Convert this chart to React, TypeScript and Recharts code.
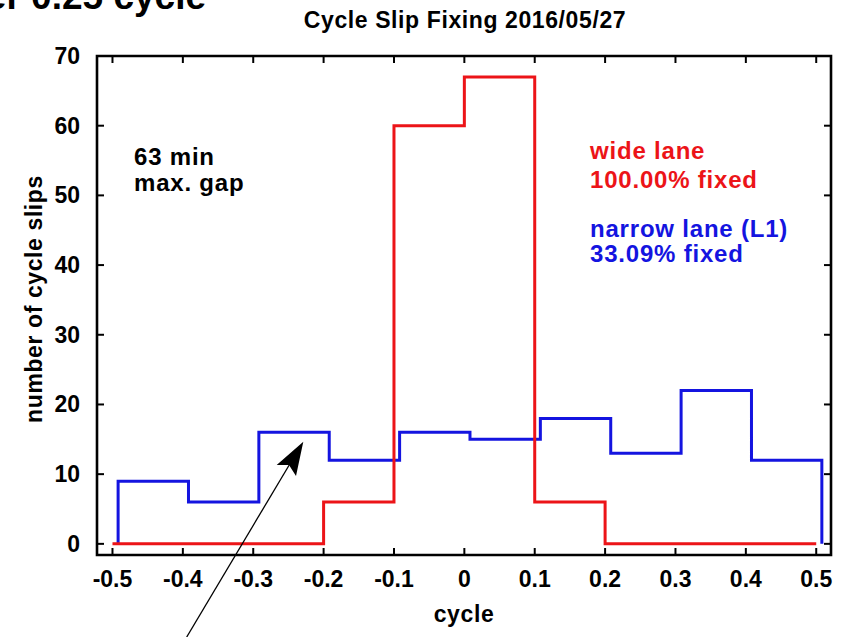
import React from 'react';
import { ComposedChart, Line, XAxis, YAxis, ReferenceArea } from 'recharts';

// bin edges and counts (last count repeated so the step closes at the final edge)
const wideEdges = [-0.5, -0.4, -0.3, -0.2, -0.1, 0, 0.1, 0.2, 0.3, 0.4, 0.5];
const wideCounts = [0, 0, 0, 6, 60, 67, 6, 0, 0, 0, 0];

const narrowEdges = [-0.492, -0.492, -0.392, -0.292, -0.192, -0.092, 0.008, 0.108, 0.208, 0.308, 0.408, 0.508, 0.508];
const narrowCounts = [0, 9, 6, 16, 12, 16, 15, 18, 13, 22, 12, 12, 0];

const xTicks = [-0.5, -0.4, -0.3, -0.2, -0.1, 0, 0.1, 0.2, 0.3, 0.4, 0.5];
const yTicks = [0, 10, 20, 30, 40, 50, 60, 70];

const X_DOMAIN: [number, number] = [-0.522, 0.521];
const Y_DOMAIN: [number, number] = [-1.6, 70];

const W = 844;
const H = 637;
const MARGIN = { top: 56, right: 13, bottom: 0, left: 0 };
const Y_AXIS_W = 97;
const X_AXIS_H = 82;
const PLOT_LEFT = MARGIN.left + Y_AXIS_W;
const PLOT_RIGHT = W - MARGIN.right;
const PLOT_TOP = MARGIN.top;
const PLOT_BOTTOM = H - MARGIN.bottom - X_AXIS_H;
const TICK_LEN = 7;

const FONT = '"Liberation Sans", Arial, Helvetica, sans-serif';
const RED = '#ec1418';
const BLUE = '#1414e0';

const wideData = wideEdges.map((x, i) => ({ x, y: wideCounts[i] }));
const narrowData = narrowEdges.map((x, i) => ({ x, y: narrowCounts[i] }));

const fmtX = (v: number) => (v === 0 ? '0' : v.toFixed(1));

const XTick = (props: any) => {
  const { x, payload } = props;
  return (
    <g>
      <line x1={x} x2={x} y1={PLOT_BOTTOM} y2={PLOT_BOTTOM - TICK_LEN} stroke="#000" strokeWidth={2} />
      <line x1={x} x2={x} y1={PLOT_TOP} y2={PLOT_TOP + TICK_LEN} stroke="#000" strokeWidth={2} />
      <text x={x} y={PLOT_BOTTOM + 32} textAnchor="middle" fontFamily={FONT} fontWeight="bold" fontSize={23} fill="#000">
        {fmtX(payload.value)}
      </text>
    </g>
  );
};

const YTick = (props: any) => {
  const { y, payload } = props;
  return (
    <g>
      <line x1={PLOT_LEFT} x2={PLOT_LEFT + TICK_LEN} y1={y} y2={y} stroke="#000" strokeWidth={2} />
      <line x1={PLOT_RIGHT} x2={PLOT_RIGHT - TICK_LEN} y1={y} y2={y} stroke="#000" strokeWidth={2} />
      <text x={80} y={y + 8} textAnchor="end" fontFamily={FONT} fontWeight="bold" fontSize={23} fill="#000">
        {payload.value}
      </text>
    </g>
  );
};

const txt = { fontFamily: FONT, fontWeight: 'bold' as const, fontSize: 23, letterSpacing: 0.6 };
const note = { fontFamily: FONT, fontWeight: 'bold' as const, fontSize: 24, letterSpacing: 0.8 };

export default function App() {
  return (
    <div style={{ position: 'absolute', left: 0, top: 0, width: W, height: H, background: '#fff', overflow: 'hidden' }}>
      <ComposedChart width={W} height={H} margin={MARGIN}>
        <XAxis
          type="number"
          dataKey="x"
          domain={X_DOMAIN}
          ticks={xTicks}
          allowDataOverflow
          axisLine={false}
          tickLine={false}
          height={X_AXIS_H}
          tick={<XTick />}
          interval={0}
        />
        <YAxis
          type="number"
          domain={Y_DOMAIN}
          ticks={yTicks}
          allowDataOverflow
          axisLine={false}
          tickLine={false}
          width={Y_AXIS_W}
          tick={<YTick />}
          interval={0}
        />
        <ReferenceArea
          x1={X_DOMAIN[0]}
          x2={X_DOMAIN[1]}
          y1={Y_DOMAIN[0]}
          y2={Y_DOMAIN[1]}
          fill="none"
          stroke="#000"
          strokeWidth={2.6}
          fillOpacity={0}
          ifOverflow="visible"
        />
        <Line
          data={narrowData}
          dataKey="y"
          type="stepAfter"
          stroke={BLUE}
          strokeWidth={3}
          dot={false}
          activeDot={false}
          isAnimationActive={false}
          strokeLinejoin="miter"
        />
        <Line
          data={wideData}
          dataKey="y"
          type="stepAfter"
          stroke={RED}
          strokeWidth={3}
          dot={false}
          activeDot={false}
          isAnimationActive={false}
          strokeLinejoin="miter"
        />
      </ComposedChart>

      <svg width={W} height={H} style={{ position: 'absolute', left: 0, top: 0, pointerEvents: 'none' }}>
        <text x={206} y={9} textAnchor="end" fontFamily={FONT} fontWeight="bold" fontSize={37} fill="#000">
          under 0.25 cycle
        </text>
        <text x={465} y={28} textAnchor="middle" {...txt} fill="#000">
          Cycle Slip Fixing 2016/05/27
        </text>
        <text x={464} y={622} textAnchor="middle" {...txt} fill="#000">
          cycle
        </text>
        <text
          x={42}
          y={299}
          textAnchor="middle"
          transform="rotate(-90 42 299)"
          {...txt}
          fill="#000"
        >
          number of cycle slips
        </text>

        <text x={134} y={165} {...note} fill="#000">63 min</text>
        <text x={134} y={191} {...note} fill="#000">max. gap</text>

        <text x={590} y={159} {...note} fill={RED}>wide lane</text>
        <text x={590} y={188} {...note} fill={RED}>100.00% fixed</text>
        <text x={590} y={237} {...note} fill={BLUE}>narrow lane (L1)</text>
        <text x={590} y={262} {...note} fill={BLUE}>33.09% fixed</text>

        {/* pointer to the -0.29..-0.19 narrow-lane bin */}
        <line x1={186.7} y1={637} x2={291} y2={462} stroke="#000" strokeWidth={1.3} />
        <polygon points="303.3,441.7 276.7,465 289,465 296,476" fill="#000" />
      </svg>
    </div>
  );
}
